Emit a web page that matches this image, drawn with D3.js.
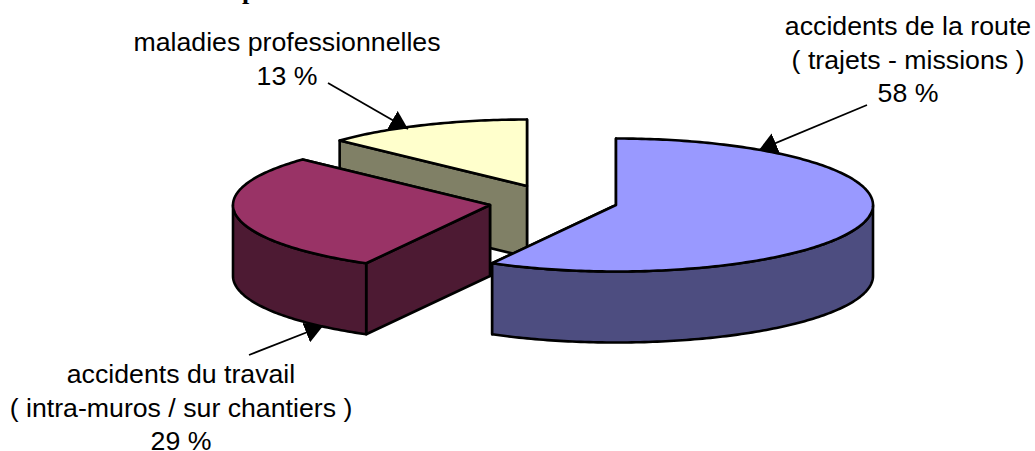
<!DOCTYPE html>
<html>
<head>
<meta charset="utf-8">
<script src="https://cdn.jsdelivr.net/npm/d3@7"></script>
<style>
  body { margin: 0; background: #fff; }
  svg { display: block; }
  text { font-family: "Liberation Sans", Arial, sans-serif; font-size: 26.7px; fill: #000; }
  text.title { font-family: "Liberation Serif", "Times New Roman", serif; font-weight: bold; font-size: 26px; }
</style>
</head>
<body>
<svg id="chart" width="1035" height="451"></svg>
<script>
var categories = ['accidents de la route', 'accidents du travail', 'maladies professionnelles'];
var shares = [58, 29, 13];
var topColors = ['#9999ff', '#993366', '#ffffcc'];
var sideColors = ['#4d4d80', '#4d1a33', '#808066'];

// label lines, one entry per slice
var labelLines = [
  ['accidents de la route', '( trajets - missions )', '58 %'],
  ['accidents du travail', '( intra-muros / sur chantiers )', '29 %'],
  ['maladies professionnelles', '13 %']
];

var rx = 257, ry = 66.5, depth = 71;
var centers = [[616, 205], [490, 205], [527, 186]];
var labelPos = [[908, 35], [181, 383], [287, 51]];
var leaders = [[[867, 105], [759, 150]], [[249, 355], [323, 326]], [[328, 83], [408, 129]]];

var svg = d3.select('#chart');

var pie = d3.pie().sort(null).value(d => d);
var arcs = pie(shares);

var line = d3.line();

function pt(c, t) {
  return [c[0] + rx * Math.sin(t), c[1] - ry * Math.cos(t)];
}

function arcPts(c, t0, t1) {
  var n = Math.max(2, Math.ceil((t1 - t0) * 60));
  return d3.range(n + 1).map(i => pt(c, t0 + (t1 - t0) * i / n));
}

function down(p) {
  return [p[0], p[1] + depth];
}

function drawFace(pts, color) {
  svg.append('path')
    .attr('d', line(pts) + 'Z')
    .attr('fill', color)
    .attr('stroke', '#000')
    .attr('stroke-width', 2.6)
    .attr('stroke-linejoin', 'round');
}

// the title sits above the top of the page, only the tail of its p shows
svg.append('text')
  .attr('class', 'title')
  .attr('x', 242)
  .attr('y', -1.5)
  .text('p');

// back slices first
[2, 1, 0].forEach(i => {
  var a = arcs[i], c = centers[i];
  var s = pt(c, a.startAngle), e = pt(c, a.endAngle);

  drawFace([c, e, down(e), down(c)], sideColors[i]);
  drawFace([c, s, down(s), down(c)], sideColors[i]);

  // outer wall, only the front half of the ellipse shows
  var t0 = Math.max(a.startAngle, Math.PI / 2);
  var t1 = Math.min(a.endAngle, Math.PI * 1.5);
  if (t1 > t0) {
    var rim = arcPts(c, t0, t1);
    drawFace(rim.concat(rim.map(down).reverse()), sideColors[i]);
  }

  drawFace([c].concat(arcPts(c, a.startAngle, a.endAngle)), topColors[i]);
});

// leader lines
svg.append('defs').append('marker')
  .attr('id', 'head')
  .attr('viewBox', '0 0 10 10')
  .attr('refX', 10).attr('refY', 5)
  .attr('markerWidth', 18).attr('markerHeight', 21)
  .attr('markerUnits', 'userSpaceOnUse')
  .attr('preserveAspectRatio', 'none')
  .attr('orient', 'auto')
  .append('path')
  .attr('d', 'M0,0L10,5L0,10Z');

leaders.forEach(d => {
  svg.append('path')
    .attr('d', line(d))
    .attr('stroke', '#000')
    .attr('stroke-width', 1.75)
    .attr('fill', 'none')
    .attr('marker-end', 'url(#head)');
});

labelLines.forEach((lines, i) => {
  var t = svg.append('text')
    .attr('text-anchor', 'middle')
    .attr('x', labelPos[i][0])
    .attr('y', labelPos[i][1]);
  t.selectAll('tspan')
    .data(lines)
    .join('tspan')
    .attr('x', labelPos[i][0])
    .attr('dy', (d, j) => j ? 33.7 : 0)
    .text(d => d);
});
</script>
</body>
</html>
